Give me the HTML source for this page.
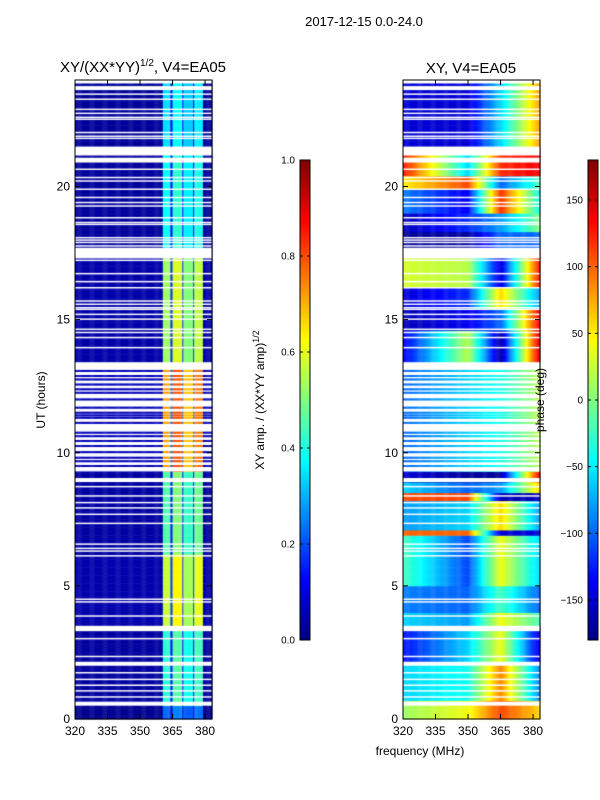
<!DOCTYPE html>
<html><head><meta charset="utf-8">
<style>
html,body{margin:0;padding:0;background:#fff;}
body{width:600px;height:800px;position:relative;overflow:hidden;font-family:"Liberation Sans",sans-serif;}
canvas{position:absolute;left:0;top:0;}
svg{position:absolute;left:0;top:0;}
</style></head>
<body>
<canvas id="cv" width="600" height="800"></canvas>
<svg id="sv" width="600" height="800">
 <text x="364" y="26" font-size="13" text-anchor="middle">2017-12-15 0.0-24.0</text>
 <text x="143" y="72" font-size="15" text-anchor="middle">XY/(XX*YY)<tspan font-size="10" dy="-6">1/2</tspan><tspan dy="6">, V4=EA05</tspan></text>
 <text x="471" y="73" font-size="15" text-anchor="middle">XY, V4=EA05</text>
 <text x="420" y="755" font-size="12" text-anchor="middle">frequency (MHz)</text>
 <text transform="translate(45,400) rotate(-90)" font-size="12" text-anchor="middle">UT (hours)</text>
 <text transform="translate(264,400) rotate(-90)" font-size="12" text-anchor="middle">XY amp. / (XX*YY amp)<tspan font-size="9" dy="-5">1/2</tspan></text>
 <text transform="translate(544,400) rotate(-90)" font-size="12" text-anchor="middle">phase (deg)</text>
 <g id="axes"></g>
</svg>
<script>
// ---- data ----
const flagged = [[23.87,24],[23.62,23.77],[20.9,21.5],[17.3,17.7],[13.1,13.4],[9.3,13.1],[8.9,9.05],[3.3,3.5],[2.0,2.15],[0.5,0.65]];
const thinFlags = [23.44,23.25,22.87,22.72,22.57,22.5,22.0,21.86,21.78,20.62,20.31,20.18,19.87,19.56,19.37,19.24,18.8,18.62,18.55,18.05,17.96,17.87,17.74,17.2,16.7,16.4,16.17,15.67,15.55,15.42,15.36,15.17,14.99,14.61,14.49,14.3,13.92,8.7,8.35,8.1,7.9,7.66,7.32,6.54,6.38,6.28,6.1,4.47,4.37,3.84,2.99,2.32,1.71,1.46,1.24,1.03,0.8];
const dataLines = [21.1,13.05,12.86,12.73,12.54,12.36,12.23,11.98,11.67,11.48,11.38,11.29,11.1,10.73,10.6,10.42,10.23,10.0,9.79,9.66,9.48];
const bandStart = [360.3,365.2,369.8,374.9];
const bandEnd   = [363.9,369.4,374.5,379.1];
const bandGain  = [0.38,0.42,0.36,0.40];
const ampSegStart = [0,0.5,3.5,6.2,9.3,13.4,17.7,21.5];
const ampSegEnd   = [0.5,3.5,6.2,9.3,13.4,17.7,21.5,24];
const ampSegValue = [0.6,1.1,1.5,1.2,1.9,1.4,1.0,0.9];
const phAnchorsF = [320,350,365,383];
const phSegStart = [21.5,20.4,19.9,19.0,18.3,17.7,16.2,15.4,14.6,13.4,9.3,8.9,8.45,8.2,7.1,6.85,5.0,4.0,3.5,2.15,0.65,0];
const phSegEnd   = [24,21.5,20.4,19.9,19.0,18.3,17.7,16.2,15.4,14.6,13.4,9.3,8.9,8.45,8.2,7.1,6.85,5.0,4.0,3.5,2.15,0.65];
const ph320 = [-150,130,50,-90,-160,-170,30,-150,-160,-140,-100,-150,-60,110,-80,100,-20,-90,-60,-130,-60,10];
const ph350 = [-150,-60,110,-140,-120,-170,20,-120,-140,20,-60,-170,-100,110,-60,100,-110,-100,-80,-60,-40,40];
const ph365 = [-60,120,-100,120,-80,-100,-150,60,-100,-170,-40,-170,-80,-160,60,-150,40,-20,40,40,90,110];
const ph383 = [80,140,-20,-40,0,-100,130,-80,140,150,20,140,60,-160,-80,-150,-60,-100,-20,-150,-90,60];
const ampTicks = [0,0.2,0.4,0.6,0.8,1.0];
const phTicks = [-150,-100,-50,0,50,100,150];
const xTicks = [320,335,350,365,380];
const yTicks = [0,5,10,15,20];
// ---- scales ----
const F0=320,F1=383.2,H0=0,H1=24;
const panels=[{x0:75,x1:212},{x0:403,x1:540}];
const Y0=719,Y1=80;
function xs(p,f){return panels[p].x0+(f-F0)/(F1-F0)*(panels[p].x1-panels[p].x0);}
function ys(h){return Y0-(h-H0)/(H1-H0)*(Y0-Y1);}
function jet(v){v=Math.max(0,Math.min(1,v));
 const r=Math.max(0,Math.min(1,1.5-Math.abs(4*v-3))),g=Math.max(0,Math.min(1,1.5-Math.abs(4*v-2))),b=Math.max(0,Math.min(1,1.5-Math.abs(4*v-1)));
 return `rgb(${Math.round(r*255)},${Math.round(g*255)},${Math.round(b*255)})`;}
function gain(f){for(let i=0;i<bandStart.length;i++){if(f>=bandStart[i]&&f<bandEnd[i])return bandGain[i];}
 if(f>=bandStart[0]&&f<bandEnd[bandEnd.length-1])return 0.12;return 0.03;}
function rowAmp(h){for(let i=0;i<ampSegStart.length;i++)if(h>=ampSegStart[i]&&h<ampSegEnd[i])return ampSegValue[i];return 1;}
function phase(h,f){for(let i=0;i<phSegStart.length;i++){if(h>=phSegStart[i]&&h<phSegEnd[i]){
 const v=[ph320[i],ph350[i],ph365[i],ph383[i]];
 for(let k=0;k<3;k++){if(f<=phAnchorsF[k+1]||k==2){const t=(f-phAnchorsF[k])/(phAnchorsF[k+1]-phAnchorsF[k]);return v[k]+(v[k+1]-v[k])*Math.min(1,t);}}}}
 return 0;}
const cv=document.getElementById('cv');const ctx=cv.getContext('2d');
const dH=0.1,dF=0.5;
function drawSpan(ha,hb){
 for(let h=ha;h<hb-1e-9;h+=dH){const h2=Math.min(hb,h+dH);const hm=(h+h2)/2;
  for(let f=F0;f<F1-1e-9;f+=dF){const f2=Math.min(F1,f+dF);const fm=(f+f2)/2;
   ctx.fillStyle=jet(rowAmp(hm)*gain(fm));
   ctx.fillRect(xs(0,f),ys(h2),xs(0,f2)-xs(0,f)+0.4,ys(h)-ys(h2)+0.4);
   ctx.fillStyle=jet((phase(hm,fm)+180)/360);
   ctx.fillRect(xs(1,f),ys(h2),xs(1,f2)-xs(1,f)+0.4,ys(h)-ys(h2)+0.4);}}}
drawSpan(0,24);
ctx.fillStyle='#fff';
for(const p of [0,1]){
 for(const [a,b] of flagged) ctx.fillRect(panels[p].x0,ys(b),panels[p].x1-panels[p].x0,ys(a)-ys(b));
 for(const t of thinFlags) ctx.fillRect(panels[p].x0,ys(t+0.055),panels[p].x1-panels[p].x0,ys(t)-ys(t+0.055));
}
for(const t of dataLines){drawSpan(t,t+0.06);}
// colorbars
for(let i=0;i<480;i++){ctx.fillStyle=jet(1-i/480);ctx.fillRect(300,160+i,10,1);ctx.fillRect(588,160+i,10,1);}
// ---- axes ----
const NS='http://www.w3.org/2000/svg';const ax=document.getElementById('axes');
function el(tag,attrs,txt){const e=document.createElementNS(NS,tag);for(const k in attrs)e.setAttribute(k,attrs[k]);if(txt!==undefined)e.textContent=txt;ax.appendChild(e);return e;}
for(const p of [0,1]){
 const P=panels[p];
 const fr=el('rect',{x:P.x0,y:Y1,width:P.x1-P.x0,height:Y0-Y1,fill:'none',stroke:'#000','stroke-width':1});
 
 
 for(const t of xTicks){const x=xs(p,t);
  el('line',{x1:x,x2:x,y1:Y0,y2:Y0-5,stroke:'#000'});el('line',{x1:x,x2:x,y1:Y1,y2:Y1+5,stroke:'#000'});
  const tx=el('text',{x:x,y:Y0+16,'font-size':12,'text-anchor':'middle'},String(t));
  
  }
 for(const t of yTicks){const y=ys(t);
  el('line',{x1:P.x0,x2:P.x0+5,y1:y,y2:y,stroke:'#000'});el('line',{x1:P.x1,x2:P.x1-5,y1:y,y2:y,stroke:'#000'});
  const ty=el('text',{x:P.x0-5,y:y+4,'font-size':12,'text-anchor':'end'},String(t));
  
  }
}
function cbar(x,ticks,lo,hi,fmt,name){
 const r=el('rect',{x:x,y:160,width:10,height:480,fill:'none',stroke:'#000'});
 
 
 for(const t of ticks){const y=640-(t-lo)/(hi-lo)*480;
  el('line',{x1:x,x2:x+3,y1:y,y2:y,stroke:'#000'});el('line',{x1:x+10,x2:x+7,y1:y,y2:y,stroke:'#000'});
  const tl=el('text',{x:x-5,y:y+3.5,'font-size':10,'text-anchor':'end'},fmt(t));
  
  }
}
cbar(300,ampTicks,0,1,t=>t.toFixed(1),'amp-colorbar');
cbar(588,phTicks,-180,180,t=>String(t).replace('-','\u2212'),'phase-colorbar');
</script>
</body></html>
